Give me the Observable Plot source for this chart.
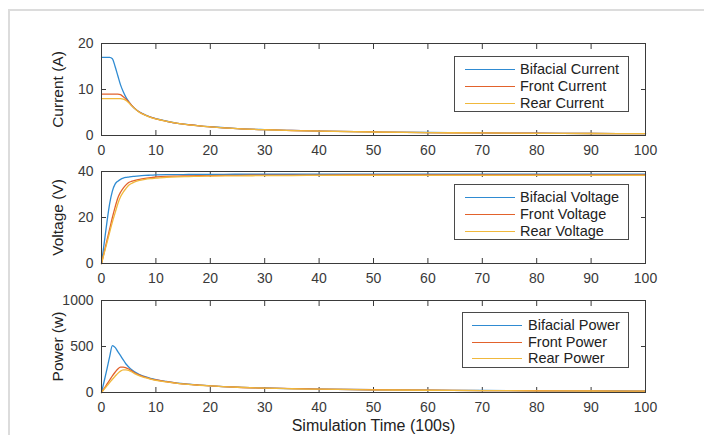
<!DOCTYPE html>
<html><head><meta charset="utf-8">
<script src="https://cdn.jsdelivr.net/npm/d3@7"></script>
<script src="https://cdn.jsdelivr.net/npm/@observablehq/plot@0.6"></script>
<style>
html,body{margin:0;padding:0;background:#fff;}
#wrap{position:relative;width:704px;height:435px;overflow:hidden;font-family:"Liberation Sans",Arial,sans-serif;background:#fff;}
#frame{position:absolute;left:8px;top:9px;width:720px;height:450px;border-top:2px solid #dcdcdc;border-left:2px solid #dcdcdc;}
.panel{position:absolute;left:0;}
.legend{position:absolute;border:1px solid #4a4a4a;background:#fff;font-size:14.5px;color:#222;box-sizing:border-box;}
.sw{position:absolute;height:0;border-top:1.4px solid;}
.lt{position:absolute;line-height:16px;white-space:nowrap;}
</style>
</head><body>
<div id="wrap"><div id="frame"></div></div>
<script>
// ---- data ----
const time = [0,0.5,1,1.5,2,2.5,3,3.5,4,4.5,5,5.5,6,7,8,9,10,12,14,16,18,20,25,30,35,40,50,60,70,80,90,100];

const bifacialCurrent = [17,17,17,17,16.7,15,13,11,9.5,8.3,7.4,6.6,6.0,5.1,4.5,4.0,3.65,3.1,2.65,2.35,2.1,1.9,1.5,1.27,1.1,0.97,0.78,0.65,0.56,0.49,0.44,0.4];
const frontCurrent    = [9,9,9,9,9,9,9,8.9,8.4,7.9,7.3,6.6,6.0,5.05,4.45,3.98,3.62,3.08,2.64,2.34,2.09,1.89,1.5,1.26,1.09,0.96,0.77,0.64,0.55,0.49,0.44,0.4];
const rearCurrent     = [8,8,8,8,8,8,8,8,7.9,7.6,7.1,6.5,5.95,5.0,4.42,3.95,3.6,3.06,2.63,2.33,2.08,1.88,1.49,1.25,1.08,0.95,0.76,0.64,0.55,0.48,0.43,0.39];

const bifacialVoltage = [0,9,18,26,31.5,34.5,35.8,36.6,37.1,37.4,37.6,37.8,37.9,38.1,38.3,38.4,38.5,38.6,38.6,38.7,38.7,38.7,38.8,38.8,38.8,38.8,38.8,38.8,38.8,38.8,38.8,38.8];
const frontVoltage    = [0,5,10,15,20,24.5,28.5,31,32.8,34.2,35.2,35.7,36.0,36.6,37.0,37.3,37.6,37.9,38.0,38.1,38.2,38.25,38.35,38.4,38.45,38.45,38.5,38.5,38.5,38.5,38.5,38.5];
const rearVoltage     = [0,4.5,9,13.5,18,22,26,29,31,32.6,34.0,34.8,35.4,36.1,36.6,36.9,37.1,37.5,37.7,37.8,37.9,38.0,38.1,38.2,38.25,38.3,38.3,38.3,38.35,38.35,38.35,38.35];

const bifacialPower = [0,125,255,390,510,490,445,400,355,310,278,250,227,195,172,154,140,120,102,91,81,73,58,49,42,37,30,25,21.5,19,17,15.5];
const frontPower    = [0,45,90,135,180,220,255,275,276,268,255,238,218,188,166,149,136,117,100,89,80,72,57,48,42,37,30,25,21,19,17,15];
const rearPower     = [0,36,72,108,144,176,208,232,245,247,241,226,208,180,161,146,133,115,99,88,79,71,57,48,41,36,29,24.5,21,18.5,16.5,15];

const xTicks = [0,10,20,30,40,50,60,70,80,90,100];
const currentTicks = [0,10,20];
const voltageTicks = [0,20,40];
const powerTicks = [0,500,1000];

const currentLabels = ["Bifacial Current","Front Current","Rear Current"];
const voltageLabels = ["Bifacial Voltage","Front Voltage","Rear Voltage"];
const powerLabels = ["Bifacial Power","Front Power","Rear Power"];

const colors = ["#2f8bd2","#e2622c","#f0b83c"];
const axisColor = "#3a3a3a";
const fmt = d3.format("d");

function panel({series, yTicks, ylabel, top, height, mt, mb, xlabel}) {
  const marks = [
    Plot.axisX({ticks: xTicks, tickSize: 0, tickPadding: 10, fontSize: 14, label: null, tickFormat: fmt}),
    Plot.axisX({ticks: xTicks, tickSize: -5, tickFormat: () => "", label: null, anchor: "bottom"}),
    Plot.axisX({ticks: xTicks, tickSize: -5, tickFormat: () => "", label: null, anchor: "top"}),
    Plot.axisY({ticks: yTicks, tickSize: 0, tickPadding: 8, fontSize: 14, label: null, tickFormat: fmt}),
    Plot.axisY({ticks: yTicks, tickSize: -5, tickFormat: () => "", label: null, anchor: "left"}),
    Plot.axisY({ticks: yTicks, tickSize: -5, tickFormat: () => "", label: null, anchor: "right"}),
    ...series.map((s, i) => Plot.line(s, {x: (d, j) => time[j], y: d => d, stroke: colors[i], strokeWidth: 1.3, curve: "monotone-x"})),
    Plot.frame({stroke: axisColor, strokeWidth: 1}),
    Plot.text([ylabel], {frameAnchor: "left", rotate: -90, dx: -43, text: d => d, textAnchor: "middle", lineAnchor: "middle", fontSize: 15.5, fill: "#222"})
  ];
  if (xlabel) marks.push(Plot.text([xlabel], {frameAnchor: "bottom", dy: 33, text: d => d, textAnchor: "middle", lineAnchor: "middle", fontSize: 16, fill: "#222"}));
  const svg = Plot.plot({
    width: 704, height,
    marginLeft: 101, marginRight: 59, marginTop: mt, marginBottom: mb,
    x: {domain: [0, 100]},
    y: {domain: [yTicks[0], yTicks[yTicks.length - 1]]},
    style: {fontFamily: '"Liberation Sans", Arial, sans-serif', color: axisColor, background: "transparent", overflow: "visible"},
    marks
  });
  svg.classList.add("panel");
  svg.style.position = "absolute";
  svg.style.top = top + "px";
  svg.style.left = "0px";
  document.getElementById("wrap").appendChild(svg);
}

function legend({labels, left, top, width, height, rows, swLeft, txtLeft}) {
  const box = document.createElement("div");
  box.className = "legend";
  Object.assign(box.style, {left: left + "px", top: top + "px", width: width + "px", height: height + "px"});
  labels.forEach((lab, i) => {
    const sw = document.createElement("div");
    sw.className = "sw";
    Object.assign(sw.style, {left: swLeft + "px", top: rows[i] + "px", width: "50px", borderTopColor: colors[i]});
    const t = document.createElement("div");
    t.className = "lt";
    t.textContent = lab;
    Object.assign(t.style, {left: txtLeft + "px", top: (rows[i] - 8) + "px"});
    box.appendChild(sw); box.appendChild(t);
  });
  document.getElementById("wrap").appendChild(box);
}

panel({series: [bifacialCurrent, frontCurrent, rearCurrent], yTicks: currentTicks, ylabel: "Current (A)", top: 0, height: 160, mt: 43, mb: 25});
panel({series: [bifacialVoltage, frontVoltage, rearVoltage], yTicks: voltageTicks, ylabel: "Voltage (V)", top: 160, height: 130, mt: 11, mb: 27});
panel({series: [bifacialPower, frontPower, rearPower], yTicks: powerTicks, ylabel: "Power (w)", top: 290, height: 145, mt: 10, mb: 43, xlabel: "Simulation Time (100s)"});

legend({labels: currentLabels, left: 454, top: 56, width: 175, height: 56, rows: [12, 29, 46], swLeft: 10, txtLeft: 65});
legend({labels: voltageLabels, left: 454, top: 184, width: 175, height: 56, rows: [12, 29, 46], swLeft: 10, txtLeft: 65});
legend({labels: powerLabels, left: 462, top: 312, width: 167, height: 56, rows: [12, 29, 45], swLeft: 9, txtLeft: 65});
</script>
</body></html>
